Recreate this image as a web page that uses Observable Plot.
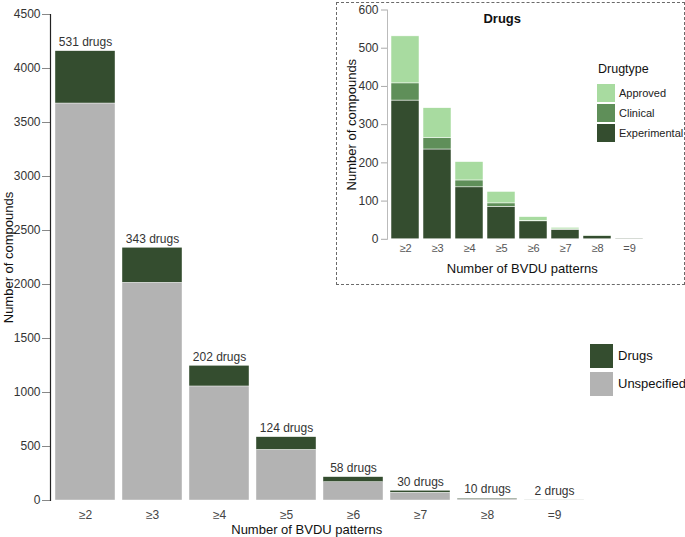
<!DOCTYPE html>
<html>
<head>
<meta charset="utf-8">
<script src="https://cdn.jsdelivr.net/npm/d3@7"></script>
<script src="https://cdn.jsdelivr.net/npm/@observablehq/plot@0.6"></script>
<style>
  body { margin: 0; background: #fff; }
  #wrap { position: relative; width: 685px; height: 537px; font-family: "Liberation Sans", Arial, sans-serif; color: #222; }
  #main { position: absolute; left: 0; top: 0; }
  #inset { position: absolute; left: 336px; top: 2px; width: 349px; height: 283px; box-sizing: border-box; border: 1.5px dashed #6a6a6a; background: #fff; }
  .leg { position: absolute; font-size: 13px; }
  .sw { position: absolute; }
</style>
</head>
<body>
<div id="wrap">
  <div id="main"></div>
  <div id="inset"></div>
  <div id="legend-main"></div>
  <div id="legend-inset"></div>
</div>
<script>
// ---- data ----
const categories = ["≥2", "≥3", "≥4", "≥5", "≥6", "≥7", "≥8", "=9"];
const unspecified = [3676, 2016, 1056, 469, 170, 72, 10, 0];
const drugs = [484, 324, 191, 117, 46, 18, 8, 2];
const drugLabels = [531, 343, 202, 124, 58, 30, 10, 2];
const mainTicks = [0, 500, 1000, 1500, 2000, 2500, 3000, 3500, 4000, 4500];
const mainGroups = ["Drugs", "Unspecified"];
const mainColors = ["#344d2f", "#b3b3b3"];

const insetExperimental = [363, 235, 136, 85, 47, 25, 9, 2];
const insetClinical = [45, 30, 18, 9, 1, 1, 0, 0];
const insetApproved = [123, 78, 48, 30, 10, 4, 1, 0];
const insetTicks = [0, 100, 200, 300, 400, 500, 600];
const insetGroups = ["Approved", "Clinical", "Experimental"];
const insetColors = ["#a8dba0", "#5f8f59", "#344d2f"];

const font = "'Liberation Sans', Arial, sans-serif";
const plain = d => String(d);

// ---- main chart ----
const mainRows = [];
categories.forEach((c, i) => mainRows.push({cat: c, group: "Unspecified", value: unspecified[i]}));
categories.forEach((c, i) => mainRows.push({cat: c, group: "Drugs", value: drugs[i]}));
const totals = categories.map((c, i) => ({cat: c, total: unspecified[i] + drugs[i], label: drugLabels[i] + " drugs"}));

const main = Plot.plot({
  width: 685, height: 537,
  marginLeft: 50, marginRight: 96.5, marginTop: 14, marginBottom: 37,
  style: {fontFamily: font, fontSize: "12px", color: "#333", background: "transparent"},
  x: {domain: categories, paddingInner: 0.107, paddingOuter: 0.06, label: null},
  y: {domain: [0, 4500], label: null},
  color: {domain: mainGroups, range: mainColors},
  marks: [
    Plot.barY(mainRows, {x: "cat", y: "value", fill: "group", stroke: "#fff", strokeWidth: 0.4}),
    Plot.text(totals, {x: "cat", y: "total", text: "label", dy: -9, fontSize: 12, fill: "#333"}),
    Plot.axisY({ticks: mainTicks, tickFormat: plain, tickSize: 8, tickPadding: 2, stroke: "#888", label: null, fontSize: 12}),
    Plot.axisX({tickSize: 0, tickPadding: 10, label: null, fontSize: 12, fill: "#444"}),
    Plot.frame({anchor: "left", stroke: "#222", strokeWidth: 1.2}),
    Plot.text(["Number of BVDU patterns"], {frameAnchor: "bottom", lineAnchor: "middle", textAnchor: "middle", dy: 29, dx: -13, fontSize: 13, fill: "#111"}),
    Plot.text(["Number of compounds"], {frameAnchor: "left", lineAnchor: "middle", textAnchor: "middle", dx: -42, rotate: -90, fontSize: 13, fill: "#111"})
  ]
});
document.getElementById("main").appendChild(main);

// ---- inset chart ----
const insetRows = [];
categories.forEach((c, i) => insetRows.push({cat: c, group: "Experimental", value: insetExperimental[i]}));
categories.forEach((c, i) => insetRows.push({cat: c, group: "Clinical", value: insetClinical[i]}));
categories.forEach((c, i) => insetRows.push({cat: c, group: "Approved", value: insetApproved[i]}));

const inset = Plot.plot({
  width: 346, height: 280,
  marginLeft: 50, marginRight: 35.5, marginTop: 6.5, marginBottom: 44.2,
  style: {fontFamily: font, fontSize: "12px", color: "#333", background: "transparent"},
  x: {domain: categories, paddingInner: 0.133, paddingOuter: 0.108, label: null},
  y: {domain: [0, 600], label: null},
  color: {domain: insetGroups, range: insetColors},
  marks: [
    Plot.barY(insetRows, {x: "cat", y: "value", fill: "group", stroke: "#fff", strokeWidth: 0.5}),
    Plot.axisY({ticks: insetTicks, tickFormat: plain, tickSize: 6, tickPadding: 3, stroke: "#aaa", label: null, fontSize: 12}),
    Plot.axisX({tickSize: 0, tickPadding: 5, label: null, fontSize: 11, fill: "#555"}),
    Plot.frame({anchor: "left", stroke: "#bbb"}),
    Plot.text(["Drugs"], {frameAnchor: "top", lineAnchor: "middle", textAnchor: "middle", dy: 8.5, dx: -15.5, fontSize: 13, fontWeight: "bold", fill: "#111"}),
    Plot.text(["Number of BVDU patterns"], {frameAnchor: "bottom", lineAnchor: "middle", textAnchor: "middle", dy: 29.7, dx: 4.5, fontSize: 13, fill: "#111"}),
    Plot.text(["Number of compounds"], {frameAnchor: "left", lineAnchor: "middle", textAnchor: "middle", dx: -35.5, rotate: -90, fontSize: 13, fill: "#111"})
  ]
});
document.getElementById("inset").appendChild(inset);

// ---- legends (HTML) ----
const lm = document.getElementById("legend-main");
mainGroups.forEach((g, i) => {
  const top = 344 + i * 28;
  lm.insertAdjacentHTML("beforeend",
    `<div class="sw" style="left:590px;top:${top}px;width:23px;height:24px;background:${mainColors[i]}"></div>` +
    `<div class="leg" style="left:618px;top:${top + 4}px;font-size:13px;color:#111">${g}</div>`);
});
const li = document.getElementById("legend-inset");
li.insertAdjacentHTML("beforeend", `<div class="leg" style="left:598px;top:62px;font-size:12.5px;color:#111">Drugtype</div>`);
insetGroups.forEach((g, i) => {
  const top = 84 + i * 20;
  li.insertAdjacentHTML("beforeend",
    `<div class="sw" style="left:597px;top:${top}px;width:18px;height:18px;background:${insetColors[i]}"></div>` +
    `<div class="leg" style="left:619px;top:${top + 3}px;font-size:11px;color:#222">${g}</div>`);
});
</script>
</body>
</html>
